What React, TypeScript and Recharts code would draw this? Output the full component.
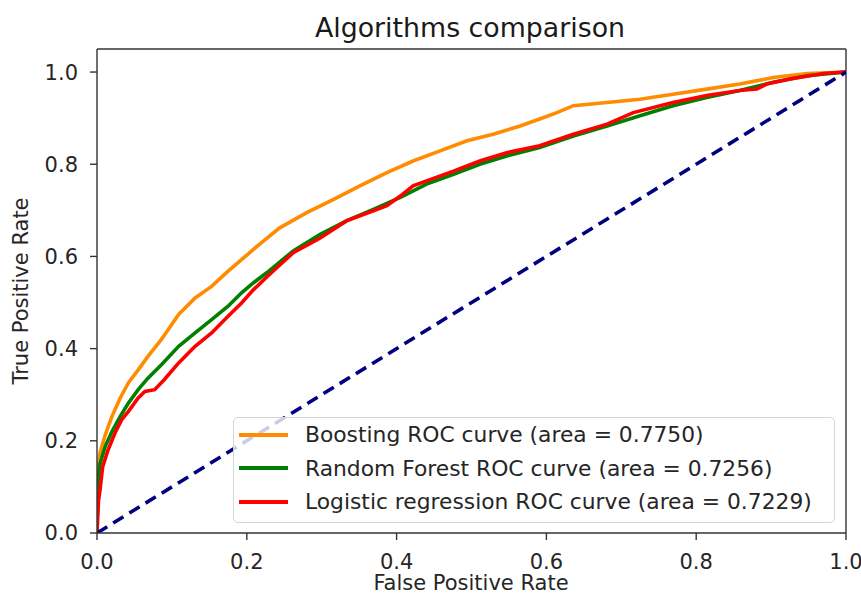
import { Label, Legend, Line, LineChart, ReferenceLine, XAxis, YAxis } from "recharts";

// ROC points
const boostingFpr = [0, 0.001, 0.002, 0.004, 0.011, 0.02, 0.031, 0.042, 0.055, 0.068, 0.086, 0.109, 0.131, 0.153, 0.175, 0.193, 0.218, 0.244, 0.28, 0.316, 0.351, 0.387, 0.422, 0.458, 0.494, 0.529, 0.565, 0.591, 0.614, 0.636, 0.681, 0.725, 0.769, 0.814, 0.858, 0.903, 0.948, 1.0];
const boostingTpr = [0, 0.12, 0.144, 0.174, 0.213, 0.253, 0.293, 0.326, 0.354, 0.383, 0.42, 0.474, 0.51, 0.535, 0.568, 0.593, 0.628, 0.662, 0.695, 0.724, 0.753, 0.782, 0.807, 0.829, 0.851, 0.865, 0.883, 0.898, 0.912, 0.927, 0.934, 0.941, 0.952, 0.963, 0.974, 0.988, 0.997, 1.0];

const forestFpr = [0, 0.001, 0.004, 0.011, 0.02, 0.031, 0.042, 0.055, 0.068, 0.086, 0.109, 0.131, 0.153, 0.175, 0.193, 0.209, 0.227, 0.262, 0.298, 0.333, 0.369, 0.405, 0.44, 0.476, 0.511, 0.547, 0.591, 0.636, 0.681, 0.725, 0.769, 0.814, 0.858, 0.903, 0.948, 1.0];
const forestTpr = [0, 0.11, 0.15, 0.188, 0.22, 0.253, 0.282, 0.311, 0.336, 0.365, 0.405, 0.434, 0.463, 0.492, 0.521, 0.543, 0.565, 0.612, 0.648, 0.677, 0.702, 0.728, 0.757, 0.778, 0.8, 0.818, 0.836, 0.861, 0.883, 0.905, 0.927, 0.945, 0.96, 0.978, 0.992, 1.0];

const logisticFpr = [0, 0.002, 0.004, 0.0076, 0.0147, 0.024, 0.033, 0.042, 0.055, 0.064, 0.077, 0.09, 0.109, 0.131, 0.153, 0.175, 0.193, 0.209, 0.227, 0.262, 0.298, 0.333, 0.369, 0.387, 0.405, 0.422, 0.44, 0.476, 0.511, 0.547, 0.591, 0.636, 0.681, 0.716, 0.769, 0.814, 0.858, 0.881, 0.894, 0.925, 0.97, 1.0];
const logisticTpr = [0, 0.07, 0.093, 0.144, 0.18, 0.217, 0.246, 0.264, 0.293, 0.307, 0.311, 0.333, 0.369, 0.405, 0.434, 0.47, 0.499, 0.528, 0.556, 0.608, 0.64, 0.677, 0.699, 0.71, 0.731, 0.753, 0.764, 0.785, 0.807, 0.825, 0.84, 0.865, 0.887, 0.912, 0.934, 0.949, 0.96, 0.963, 0.974, 0.985, 0.997, 1.0];

const chanceFpr = [0, 1];
const chanceTpr = [0, 1];

const seriesNames = [
  "Boosting ROC curve (area = 0.7750)",
  "Random Forest ROC curve (area = 0.7256)",
  "Logistic regression ROC curve (area = 0.7229)",
];

const xTicks = [0, 0.2, 0.4, 0.6, 0.8, 1.0];
const yTicks = [0, 0.2, 0.4, 0.6, 0.8, 1.0];

const toPoints = (fpr: number[], tpr: number[]) => fpr.map((x, i) => ({ x, y: tpr[i] }));

const FONT = "DejaVu Sans";
const tickStyle = { fill: "#262626", fontSize: 21, fontFamily: FONT };
const spine = { stroke: "#333", strokeWidth: 1.4 };

const renderLegend = (props: any) => {
  const items = (props.payload || [])
    .filter((e: any) => seriesNames.includes(e.value))
    .sort((a: any, b: any) => seriesNames.indexOf(a.value) - seriesNames.indexOf(b.value));
  return (
    <div
      style={{
        width: 602,
        height: 106,
        boxSizing: "border-box",
        border: "1px solid #d4d4d4",
        borderRadius: 5,
        background: "rgba(255,255,255,0.8)",
        fontFamily: FONT,
        fontSize: 21.8,
        color: "#262626",
      }}
    >
      {items.map((entry: any) => (
        <div key={entry.value} style={{ display: "flex", alignItems: "center", height: 33.5 }}>
          <span style={{ display: "inline-block", width: 49, height: 4, background: entry.color, marginLeft: 5, marginRight: 17 }} />
          <span style={{ whiteSpace: "nowrap" }}>{entry.value}</span>
        </div>
      ))}
    </div>
  );
};

export default function App() {
  return (
    <div style={{ position: "relative", width: 861, height: 601, background: "#fff" }}>
      <style>{`body{margin:0}`}</style>
      <LineChart width={861} height={601} margin={{ top: 49, right: 15, left: 0, bottom: 0 }}>
        <XAxis
          dataKey="x"
          type="number"
          domain={[0, 1]}
          ticks={xTicks}
          tickFormatter={(v: number) => v.toFixed(1)}
          height={68}
          tickSize={7}
          tickMargin={14}
          tick={tickStyle}
          axisLine={spine}
          tickLine={spine}
          allowDataOverflow
        >
          <Label
            content={() => (
              <text x={471} y={590} textAnchor="middle" fontFamily={FONT} fontSize={21} fill="#262626">
                False Positive Rate
              </text>
            )}
          />
        </XAxis>
        <YAxis
          type="number"
          domain={[0, 1.05]}
          ticks={yTicks}
          tickFormatter={(v: number) => v.toFixed(1)}
          width={97}
          tickSize={7}
          tickMargin={12}
          tick={tickStyle}
          axisLine={spine}
          tickLine={spine}
          allowDataOverflow
        >
          <Label
            content={() => (
              <text x={28} y={291} transform="rotate(-90 28 291)" textAnchor="middle" fontFamily={FONT} fontSize={21} fill="#262626">
                True Positive Rate
              </text>
            )}
          />
        </YAxis>
        <ReferenceLine
          y={1.05}
          stroke="#333"
          strokeWidth={1.4}
          label={
            <Label
              content={() => (
                <text x={470} y={37} textAnchor="middle" fontFamily={FONT} fontSize={26.8} fill="#1a1a1a">
                  Algorithms comparison
                </text>
              )}
            />
          }
        />
        <ReferenceLine x={1} stroke="#333" strokeWidth={1.4} />
        <Legend
          layout="vertical"
          align="center"
          verticalAlign="middle"
          content={renderLegend}
          wrapperStyle={{ left: 233, top: 417, width: 602, height: 106 }}
        />
        <Line
          data={toPoints(boostingFpr, boostingTpr)}
          dataKey="y"
          name={seriesNames[0]}
          stroke="#ff8c00"
          strokeWidth={3.6}
          dot={false}
          type="linear"
          isAnimationActive={false}
        />
        <Line
          data={toPoints(forestFpr, forestTpr)}
          dataKey="y"
          name={seriesNames[1]}
          stroke="#008000"
          strokeWidth={3.6}
          dot={false}
          type="linear"
          isAnimationActive={false}
        />
        <Line
          data={toPoints(logisticFpr, logisticTpr)}
          dataKey="y"
          name={seriesNames[2]}
          stroke="#ff0000"
          strokeWidth={3.6}
          dot={false}
          type="linear"
          isAnimationActive={false}
        />
        <Line
          data={toPoints(chanceFpr, chanceTpr)}
          dataKey="y"
          name="chance"
          legendType="none"
          stroke="#000080"
          strokeWidth={3.6}
          strokeDasharray="12 7"
          dot={false}
          type="linear"
          isAnimationActive={false}
        />
      </LineChart>
    </div>
  );
}
